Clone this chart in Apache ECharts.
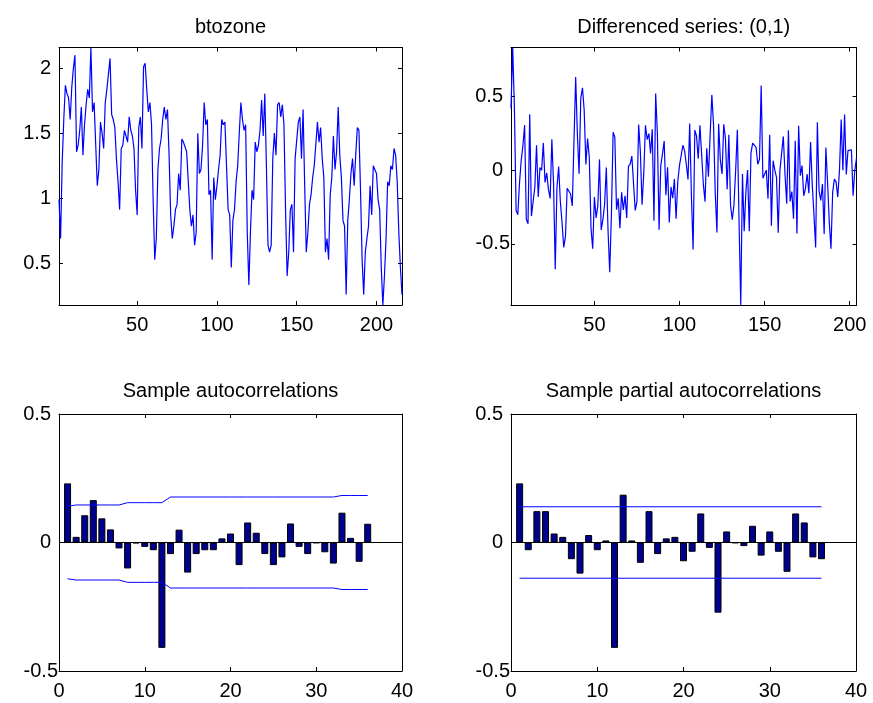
<!DOCTYPE html>
<html><head><meta charset="utf-8">
<script src="https://cdn.jsdelivr.net/npm/echarts@6/dist/echarts.min.js"></script>
<style>html,body{margin:0;padding:0;background:#fff}#c{width:873px;height:703px}</style>
</head><body><div id="c"></div>
<script>
// log ozone concentration (btozone), monthly, 216 values
const btozone = [
0.993,0.693,1.281,1.609,1.872,1.808,1.775,1.609,1.856,2.001,2.104,1.361,
1.411,1.526,1.705,1.335,1.569,1.723,1.841,1.775,2.163,1.668,1.740,1.740,
1.099,1.224,1.589,1.504,1.386,1.740,1.841,1.960,2.079,1.649,1.609,1.548,
1.308,1.131,0.916,1.386,1.411,1.526,1.482,1.435,1.629,1.526,1.482,1.386,
1.065,0.875,1.548,1.629,1.386,2.015,2.041,1.841,1.668,1.740,1.569,0.993,
0.531,0.693,1.224,1.386,1.459,1.609,1.705,1.609,1.686,1.335,0.875,0.693,
0.788,0.916,0.956,1.194,1.065,1.459,1.435,1.435,1.361,1.361,0.916,0.788,
0.875,0.642,0.742,1.504,1.194,1.224,1.411,1.740,1.569,1.609,1.030,1.065,
0.531,1.163,0.993,1.099,1.224,1.335,1.609,1.569,1.589,1.253,0.916,0.875,
0.470,0.833,0.916,1.131,1.253,1.504,1.740,1.609,1.526,1.569,0.742,0.336,
0.742,1.065,0.993,1.435,1.361,1.411,1.526,1.758,1.482,1.808,1.253,0.642,
0.588,0.642,1.308,1.504,1.335,1.723,1.740,1.629,1.723,1.569,0.916,0.405,
0.588,0.916,0.956,0.588,1.308,1.308,1.589,1.629,1.308,1.686,1.099,0.588,
0.742,0.956,1.030,1.163,1.253,1.253,1.589,1.435,1.548,1.308,1.163,0.588,
0.693,0.531,1.030,1.163,1.482,1.224,1.361,1.705,1.335,1.163,0.833,0.788,
0.262,0.833,0.993,1.194,1.308,1.099,1.335,1.548,1.526,1.065,0.531,0.262,
0.588,0.693,0.788,1.099,0.875,1.253,1.253,1.194,0.993,0.916,0.470,0.182,
0.405,0.693,1.131,1.099,1.253,1.224,1.386,1.335,1.131,0.742,0.470,0.262
];
// differenced series (0,1), 204 values
const differenced = [
0.418,0.833,0.424,-0.274,-0.303,-0.085,0.066,0.166,0.307,-0.333,-0.364,0.379,
-0.312,-0.302,-0.116,0.169,-0.183,0.017,0.000,0.185,-0.084,-0.019,-0.131,-0.192,
0.209,-0.093,-0.673,-0.118,0.025,-0.214,-0.359,-0.525,-0.450,-0.123,-0.127,-0.162,
-0.243,-0.256,0.632,0.243,-0.025,0.489,0.559,0.406,0.039,0.214,0.087,-0.393,
-0.534,-0.182,-0.324,-0.243,0.073,-0.406,-0.336,-0.232,0.018,-0.405,-0.694,-0.300,
0.257,0.223,-0.268,-0.192,-0.394,-0.150,-0.270,-0.174,-0.325,0.026,0.041,0.095,
0.087,-0.274,-0.214,0.310,0.129,-0.235,-0.024,0.305,0.208,0.248,0.114,0.277,
-0.344,0.521,0.251,-0.405,0.030,0.111,0.198,-0.171,0.020,-0.356,-0.114,-0.190,
-0.061,-0.330,-0.077,0.032,0.029,0.169,0.131,0.040,-0.063,0.316,-0.174,-0.539,
0.272,0.232,0.077,0.304,0.108,-0.093,-0.214,0.149,-0.044,0.239,0.511,0.306,
-0.154,-0.423,0.315,0.069,-0.026,0.312,0.214,-0.129,0.241,-0.239,-0.337,-0.237,
0.000,0.274,-0.352,-0.916,-0.027,-0.415,-0.151,0.000,-0.415,0.117,0.183,0.183,
0.154,0.040,0.074,0.575,-0.055,-0.055,0.000,-0.194,0.240,-0.378,0.064,0.000,
-0.049,-0.425,0.000,0.000,0.229,-0.029,-0.228,0.270,-0.213,-0.145,-0.330,0.200,
-0.431,0.302,-0.037,0.031,-0.174,-0.125,-0.026,-0.157,0.191,-0.098,-0.302,-0.526,
0.326,-0.140,-0.205,-0.095,-0.433,0.154,-0.082,-0.354,-0.533,-0.149,-0.061,-0.080,
-0.183,0.000,0.343,0.000,0.378,-0.029,0.133,0.141,0.138,-0.174,0.000,0.080
];
const lags = [1,2,3,4,5,6,7,8,9,10,11,12,13,14,15,16,17,18,19,20,21,22,23,24,25,26,27,28,29,30,31,32,33,34,35,36];
const acf = [0.230,0.022,0.106,0.165,0.094,0.051,-0.023,-0.101,-0.003,-0.017,-0.030,-0.410,
  -0.045,0.050,-0.117,-0.045,-0.030,-0.030,0.016,0.035,-0.088,0.078,0.038,-0.045,
  -0.088,-0.058,0.074,-0.017,-0.045,-0.002,-0.038,-0.082,0.116,0.018,-0.075,0.073];
const acfUpper = [0.141,0.146,0.146,0.146,0.146,0.146,0.146,0.155,0.155,0.155,0.155,0.155,
  0.177,0.177,0.177,0.177,0.177,0.177,0.177,0.177,0.177,0.177,0.177,0.177,
  0.177,0.177,0.177,0.177,0.177,0.177,0.177,0.177,0.183,0.183,0.183,0.183];
const acfLower = [-0.141,-0.146,-0.146,-0.146,-0.146,-0.146,-0.146,-0.155,-0.155,-0.155,-0.155,-0.155,
  -0.177,-0.177,-0.177,-0.177,-0.177,-0.177,-0.177,-0.177,-0.177,-0.177,-0.177,-0.177,
  -0.177,-0.177,-0.177,-0.177,-0.177,-0.177,-0.177,-0.177,-0.183,-0.183,-0.183,-0.183];
const pacf = [0.230,-0.030,0.122,0.122,0.035,0.022,-0.065,-0.121,0.029,-0.030,0.008,-0.410,
  0.186,0.008,-0.079,0.122,-0.045,0.016,0.022,-0.073,-0.036,0.113,-0.021,-0.273,
  0.043,-0.002,-0.014,0.065,-0.051,0.043,-0.036,-0.114,0.113,0.078,-0.058,-0.065];
const pacfUpper = 0.139, pacfLower = -0.139;
const seriesTicks = [50,100,150,200];
const lagTicks = [0,10,20,30,40];
const btozoneYTicks = [0.5,1,1.5,2];
const diffYTicks = [-0.5,0,0.5];
const corrYTicks = [-0.5,0,0.5];
const titles = ['btozone','Differenced series: (0,1)','Sample autocorrelations','Sample partial autocorrelations'];

const FONT = '"Liberation Sans", Arial, Helvetica, sans-serif';
const grids = [
  {left:59, top:47.5, width:343, height:257.5},
  {left:511, top:47.5, width:345.5, height:257.5},
  {left:59, top:414, width:343, height:257},
  {left:511, top:414, width:345, height:257}
];
const ranges = [
  {x:[1, btozone.length], y:[Math.min(...btozone), Math.max(...btozone)], xt:seriesTicks, yt:btozoneYTicks},
  {x:[1, differenced.length], y:[Math.min(...differenced), Math.max(...differenced)], xt:seriesTicks, yt:diffYTicks},
  {x:[0,40], y:[-0.5,0.5], xt:lagTicks, yt:corrYTicks},
  {x:[0,40], y:[-0.5,0.5], xt:lagTicks, yt:corrYTicks}
];
const txt = {color:'#000', fontSize:20, fontFamily:FONT};
const xAxes = [], yAxes = [];
ranges.forEach((r, g) => {
  ['bottom','top'].forEach((pos, k) => xAxes.push({
    type:'value', gridIndex:g, position:pos, min:r.x[0], max:r.x[1],
    axisLine:{show:true, onZero:false, lineStyle:{color:'#000', width:1}},
    axisTick:{show:true, inside:true, length:4, customValues:r.xt, lineStyle:{color:'#000', width:1}},
    axisLabel:Object.assign({show:k===0, customValues:r.xt, margin:10}, txt),
    splitLine:{show:false}
  }));
  ['left','right'].forEach((pos, k) => yAxes.push({
    type:'value', gridIndex:g, position:pos, min:r.y[0], max:r.y[1],
    axisLine:{show:true, onZero:false, lineStyle:{color:'#000', width:1}},
    axisTick:{show:true, inside:true, length:4, customValues:r.yt, lineStyle:{color:'#000', width:1}},
    axisLabel:Object.assign({show:k===0, customValues:r.yt, margin:1,
      formatter: v => (v < 0 ? '{n|' : '{p|') + v + '}',
      rich:{p:Object.assign({padding:[0,7,0,0]}, txt), n:Object.assign({}, txt)}}, txt),
    splitLine:{show:false}
  }));
});
const titleOpts = titles.map((t, i) => ({
  text:t, left: grids[i].left + grids[i].width/2, textAlign:'center',
  top: i < 2 ? 17 : 381, padding:0,
  textStyle:{fontSize:20, fontWeight:'normal', color:'#000', fontFamily:FONT}
}));
const blueLine = {color:'#0000ff', width:1.2};
const boundLine = {color:'#0000ff', width:1};
const zeroLine = {silent:true, symbol:['none','none'], label:{show:false},
  lineStyle:{color:'#000', width:1, type:'solid'}, data:[{yAxis:0}]};
const barStyle = {color:'#00008f', borderColor:'#000', borderWidth:1};
const option = {
  animation:false,
  backgroundColor:'#fff',
  title:titleOpts,
  grid:grids,
  xAxis:xAxes,
  yAxis:yAxes,
  series:[
    {type:'line', xAxisIndex:0, yAxisIndex:0, showSymbol:false, lineStyle:blueLine,
     data:btozone.map((v,i)=>[i+1, v])},
    {type:'line', xAxisIndex:2, yAxisIndex:2, showSymbol:false, lineStyle:blueLine,
     data:differenced.map((v,i)=>[i+1, v])},
    {type:'bar', xAxisIndex:4, yAxisIndex:4, barWidth:7, itemStyle:barStyle,
     data:acf.map((v,i)=>[lags[i], v]), markLine:zeroLine},
    {type:'line', xAxisIndex:4, yAxisIndex:4, showSymbol:false, lineStyle:boundLine,
     data:acfUpper.map((v,i)=>[lags[i], v])},
    {type:'line', xAxisIndex:4, yAxisIndex:4, showSymbol:false, lineStyle:boundLine,
     data:acfLower.map((v,i)=>[lags[i], v])},
    {type:'bar', xAxisIndex:6, yAxisIndex:6, barWidth:7, itemStyle:barStyle,
     data:pacf.map((v,i)=>[lags[i], v]), markLine:zeroLine},
    {type:'line', xAxisIndex:6, yAxisIndex:6, showSymbol:false, lineStyle:boundLine,
     data:[[lags[0], pacfUpper],[lags[lags.length-1], pacfUpper]]},
    {type:'line', xAxisIndex:6, yAxisIndex:6, showSymbol:false, lineStyle:boundLine,
     data:[[lags[0], pacfLower],[lags[lags.length-1], pacfLower]]}
  ]
};
const chart = echarts.init(document.getElementById('c'));
chart.setOption(option);
</script>
</body></html>
